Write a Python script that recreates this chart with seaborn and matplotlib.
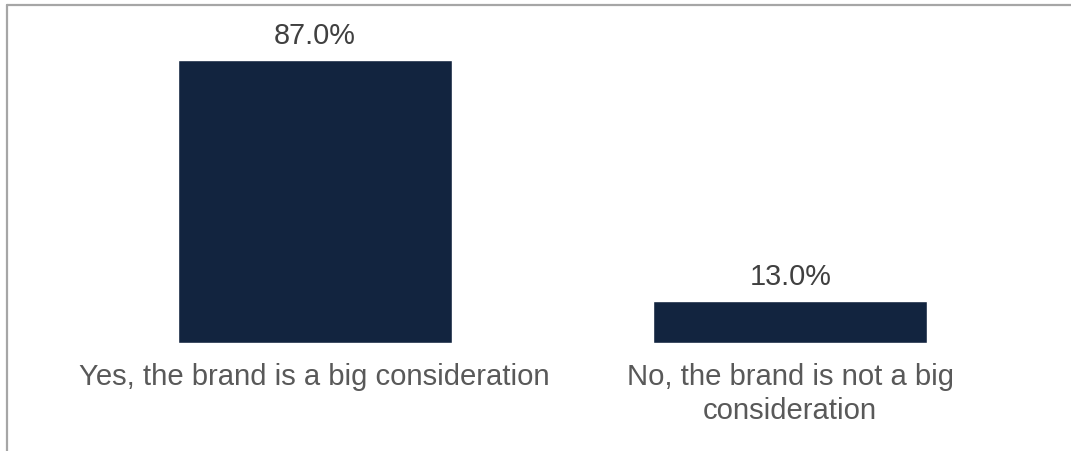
import matplotlib
matplotlib.use("Agg")
import matplotlib.pyplot as plt
import seaborn as sns
import pandas as pd
from matplotlib.lines import Line2D

categories = ["Yes, the brand is a big consideration",
              "No, the brand is not a big\nconsideration"]
values = [87.0, 13.0]
value_labels = ["87.0%", "13.0%"]

sns.set_theme(style="white")
plt.rcParams['font.family'] = ['Liberation Sans', 'DejaVu Sans']

df = pd.DataFrame({"cat": categories, "val": values})

fig = plt.figure(figsize=(10.71, 4.52), dpi=100)
ax = fig.add_axes([77/1071, (452-344)/452, 951/1071, 325/452])
sns.barplot(data=df, x="cat", y="val", color="#12243F", saturation=1,
            width=0.576, ax=ax)
ax.set_xlim(-0.5, 1.5)
ax.set_ylim(0, 100)
for c in ax.containers:
    ax.bar_label(c, labels=value_labels, padding=8, fontsize=20.8, color="#404040")
ax.set_xlabel("")
ax.set_ylabel("")
ax.set_yticks([])
ax.tick_params(axis='x', length=0, pad=14, labelsize=21.1, labelcolor="#595959")
for t in ax.get_xticklabels():
    t.set_linespacing(1.27)
for s in ax.spines.values():
    s.set_visible(False)

fig.add_artist(Line2D([7/1071, 1], [1-6/452, 1-6/452], transform=fig.transFigure,
                      color="#A6A6A6", lw=1.6))
fig.add_artist(Line2D([7/1071, 7/1071], [0, 1-6/452], transform=fig.transFigure,
                      color="#A6A6A6", lw=1.6))
fig.savefig("out.png", dpi=100, facecolor="white")
